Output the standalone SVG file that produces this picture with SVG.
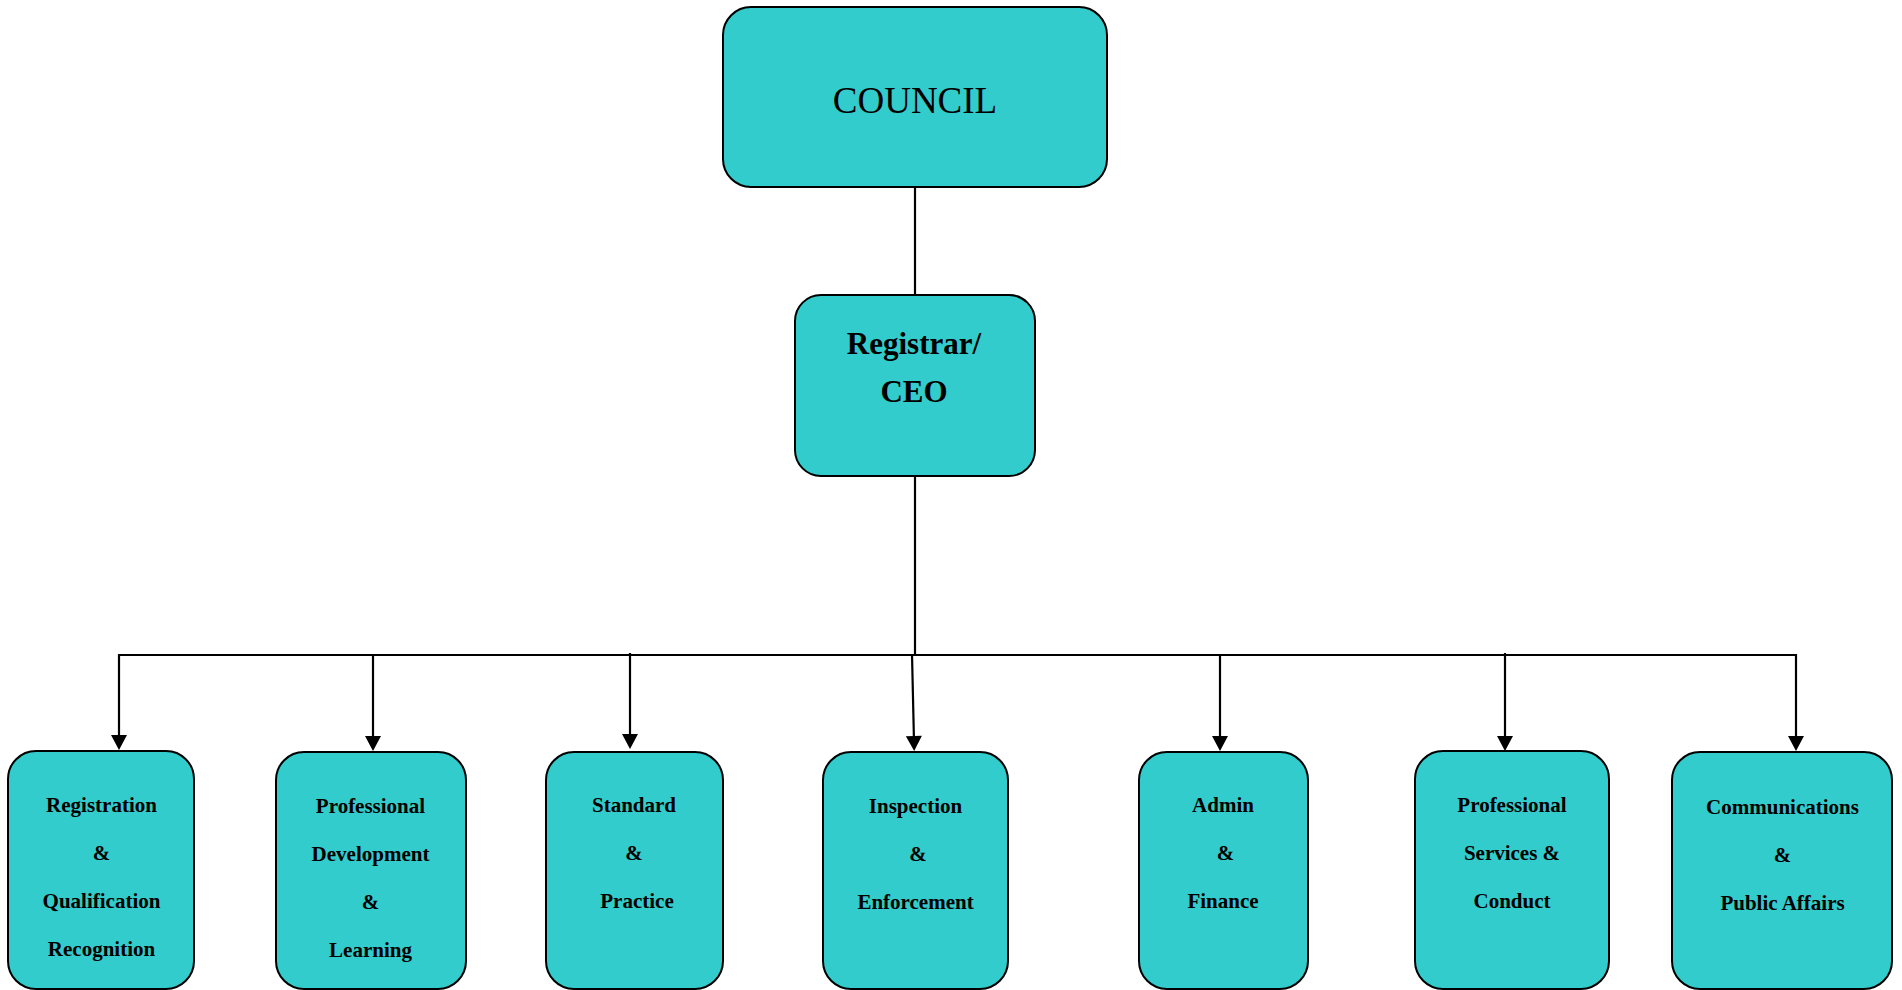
<svg xmlns="http://www.w3.org/2000/svg" width="1902" height="990" viewBox="0 0 1902 990">
<style>
.box{fill:#33CCCC;stroke:#000;stroke-width:2}
.t{font-family:"Liberation Serif","Times New Roman",serif;fill:#000;text-anchor:middle}
.sm{font-size:21px;font-weight:bold}
.conn{stroke:#000;stroke-width:2.2;fill:none}
</style>
<defs>
<marker id="arr" markerUnits="userSpaceOnUse" markerWidth="16" markerHeight="16" viewBox="0 0 15 16" refX="6" refY="8" orient="auto">
<path d="M0,0 L15,8 L0,16 z" fill="#000"/>
</marker>
</defs>
<rect width="1902" height="990" fill="#fff"/>
<g id="connectors">
<line class="conn" x1="915" y1="187" x2="915" y2="295"/>
<line class="conn" x1="915" y1="476" x2="915" y2="656"/>
<line class="conn" x1="118" y1="655" x2="1797" y2="655"/>
<line class="conn" x1="119" y1="654" x2="119" y2="741" marker-end="url(#arr)"/>
<line class="conn" x1="373" y1="654" x2="373" y2="742" marker-end="url(#arr)"/>
<line class="conn" x1="630" y1="653" x2="630" y2="740" marker-end="url(#arr)"/>
<line class="conn" x1="912" y1="654" x2="914" y2="742" marker-end="url(#arr)"/>
<line class="conn" x1="1220" y1="654" x2="1220" y2="742" marker-end="url(#arr)"/>
<line class="conn" x1="1505" y1="653" x2="1505" y2="742" marker-end="url(#arr)"/>
<line class="conn" x1="1796" y1="654" x2="1796" y2="742" marker-end="url(#arr)"/>
</g>
<g id="council">
<rect class="box" x="723" y="7" width="384" height="180" rx="28"/>
<text class="t" x="915" y="113" font-size="37">COUNCIL</text>
</g>
<g id="registrar">
<rect class="box" x="795" y="295" width="240" height="181" rx="26"/>
<text class="t" x="914" y="354" font-size="31" font-weight="bold">Registrar/</text>
<text class="t" x="914" y="402" font-size="31" font-weight="bold">CEO</text>
</g>
<g id="registration">
<rect class="box" x="8" y="751" width="186" height="238" rx="28"/>
<text class="t sm" x="101.5" y="812">Registration</text>
<text class="t sm" x="101.5" y="860">&amp;</text>
<text class="t sm" x="101.5" y="908">Qualification</text>
<text class="t sm" x="101.5" y="956">Recognition</text>
</g>
<g id="profdev">
<rect class="box" x="276" y="752" width="190" height="237" rx="28"/>
<text class="t sm" x="370.5" y="813">Professional</text>
<text class="t sm" x="370.5" y="861">Development</text>
<text class="t sm" x="370.5" y="909">&amp;</text>
<text class="t sm" x="370.5" y="957">Learning</text>
</g>
<g id="standard">
<rect class="box" x="546" y="752" width="177" height="237" rx="28"/>
<text class="t sm" x="634" y="812">Standard</text>
<text class="t sm" x="634" y="860">&amp;</text>
<text class="t sm" x="637" y="908">Practice</text>
</g>
<g id="inspection">
<rect class="box" x="823" y="752" width="185" height="237" rx="28"/>
<text class="t sm" x="915.5" y="813">Inspection</text>
<text class="t sm" x="918" y="861">&amp;</text>
<text class="t sm" x="915.5" y="909">Enforcement</text>
</g>
<g id="admin">
<rect class="box" x="1139" y="752" width="169" height="237" rx="28"/>
<text class="t sm" x="1223" y="812">Admin</text>
<text class="t sm" x="1225.5" y="860">&amp;</text>
<text class="t sm" x="1223" y="908">Finance</text>
</g>
<g id="profservices">
<rect class="box" x="1415" y="751" width="194" height="238" rx="28"/>
<text class="t sm" x="1512" y="812">Professional</text>
<text class="t sm" x="1512" y="860">Services &amp;</text>
<text class="t sm" x="1512" y="908">Conduct</text>
</g>
<g id="communications">
<rect class="box" x="1672" y="752" width="220" height="237" rx="28"/>
<text class="t sm" x="1782.5" y="814">Communications</text>
<text class="t sm" x="1782.5" y="862">&amp;</text>
<text class="t sm" x="1782.5" y="910">Public Affairs</text>
</g>
</svg>
